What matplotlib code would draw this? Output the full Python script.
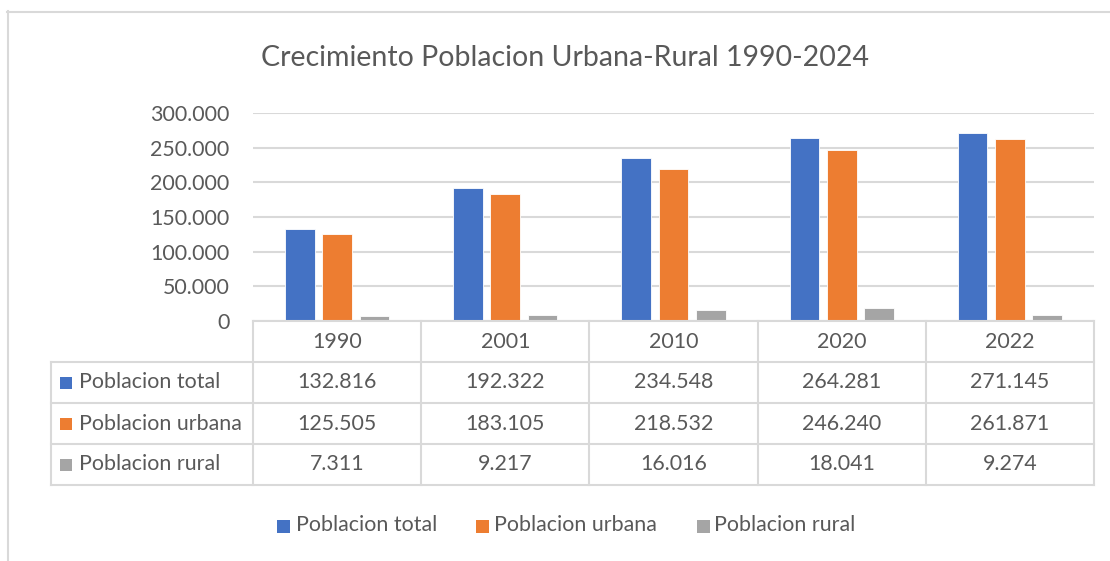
import matplotlib
matplotlib.use("Agg")
from matplotlib import pyplot as plt
from matplotlib.patches import Rectangle
import numpy as np

years = ["1990", "2001", "2010", "2020", "2022"]
series_names = ["Poblacion total", "Poblacion urbana", "Poblacion rural"]
total = [132816, 192322, 234548, 264281, 271145]
urbana = [125505, 183105, 218532, 246240, 261871]
rural = [7311, 9217, 16016, 18041, 9274]
colors = ["#4472C4", "#ED7D31", "#A5A5A5"]

plt.rcParams['font.family'] = ['Lato', 'DejaVu Sans']
txt = "#595959"
grid = "#D9D9D9"
fs = 15.4

W, H = 1110, 561
fig = plt.figure(figsize=(W / 100, H / 100), dpi=100)

def fx(px):
    return px / W

def fy(py):
    return 1 - py / H

def square(px, py, color, size=12):
    # px, py = left / vertical centre in pixels
    fig.add_artist(Rectangle((fx(px), fy(py + size / 2)), size / W, size / H,
                             transform=fig.transFigure, color=color, lw=0))

# chart frame (top and left edges visible)
fig.add_artist(plt.Line2D([fx(7), 1], [fy(11.5), fy(11.5)], color=grid, lw=1.5))
fig.add_artist(plt.Line2D([fx(7.5), fx(7.5)], [fy(11), 0], color=grid, lw=1.5))

left, right, top, bottom = 253, 1094, 113, 321
ax = fig.add_axes([fx(left), fy(bottom), fx(right - left), fy(top) - fy(bottom)])
x = np.arange(len(years))
step = 0.222
width = 0.176
data = [total, urbana, rural]
for i, vals in enumerate(data):
    ax.bar(x + (i - 1) * step, vals, width, color=colors[i], edgecolor="white",
           linewidth=0.6, zorder=3)
ax.set_xlim(-0.5, len(years) - 0.5)
ax.set_ylim(0, 300000)
ax.set_yticks(range(0, 300001, 50000))
ax.set_yticklabels(["0" if v == 0 else f"{v // 1000}.000" for v in range(0, 300001, 50000)])
ax.yaxis.grid(True, color=grid, lw=1.5, zorder=0)
ax.tick_params(axis="y", length=0, pad=17, labelsize=fs, labelcolor=txt)
ax.tick_params(axis="x", length=0, labelbottom=False)
for s in ax.spines.values():
    s.set_visible(False)

# data table
tb_top, tb_bottom = 321, 485
tax = fig.add_axes([fx(left), fy(tb_bottom), fx(right - left), fy(tb_top) - fy(tb_bottom)])
tax.set_xlim(ax.get_xlim())
tax.set_ylim(4, 0)
tax.axis("off")
x_lab = -0.5 - (left - 51) / ((right - left) / len(years))
lc = dict(color=grid, lw=1.5, clip_on=False)
tax.plot([-0.5, 4.5], [0, 0], **lc)
for k in range(len(years) + 1):
    tax.plot([k - 0.5, k - 0.5], [0, 4], **lc)
for r in range(1, 5):
    tax.plot([x_lab, 4.5], [r, r], **lc)
tax.plot([x_lab, x_lab], [1, 4], **lc)
for k, yr in enumerate(years):
    tax.text(k, 0.5, yr, ha="center", va="center", fontsize=fs, color=txt)

def fmt(v):
    return f"{v:,}".replace(",", ".")

row_h = (tb_bottom - tb_top) / 4
for i, vals in enumerate(data):
    row = i + 1.5
    py = tb_top + row * row_h
    square(60, py, colors[i])
    fig.text(fx(79), fy(py), series_names[i], ha="left", va="center",
             fontsize=fs, color=txt)
    for k, v in enumerate(vals):
        tax.text(k, row, fmt(v), ha="center", va="center", fontsize=fs, color=txt)

fig.text(fx(565), fy(58), "Crecimiento Poblacion Urbana-Rural 1990-2024",
         ha="center", va="center", fontsize=20.5, color=txt)

# legend
leg_sq = [277, 476, 697]
leg_tx = [296, 494, 714]
for i, name in enumerate(series_names):
    square(leg_sq[i], 526, colors[i], size=13)
    fig.text(fx(leg_tx[i]), fy(525), name, ha="left", va="center",
             fontsize=fs, color=txt)

fig.savefig("out.png", dpi=100)
